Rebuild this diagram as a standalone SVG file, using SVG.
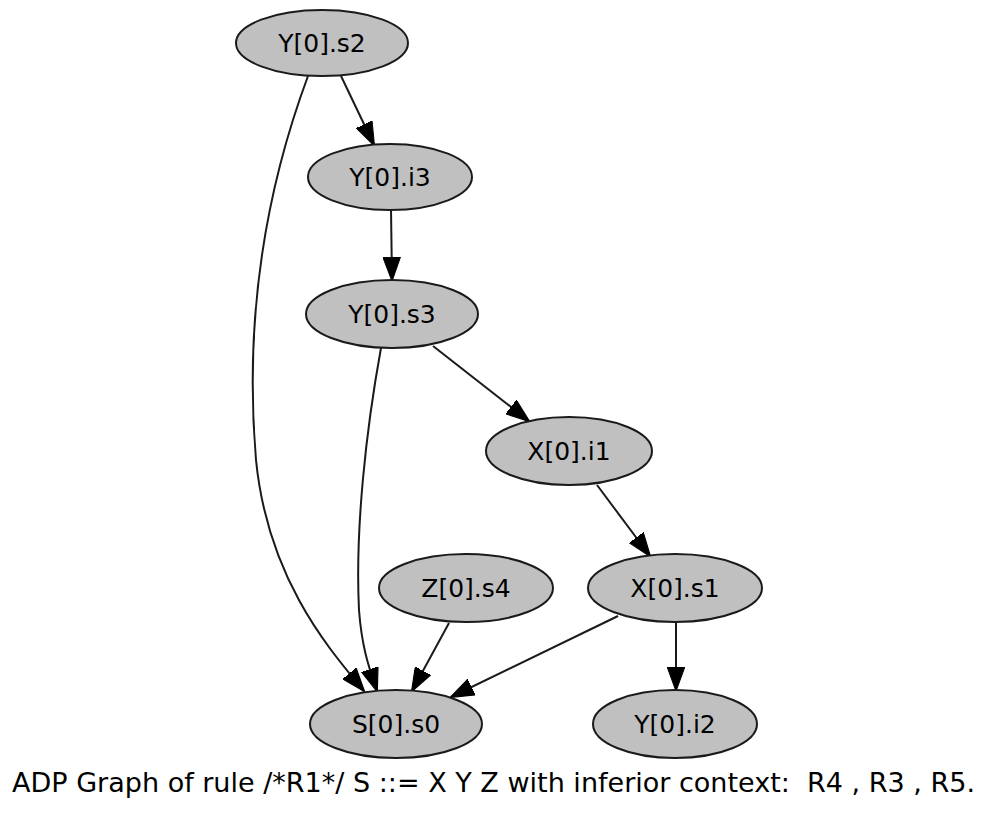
<svg xmlns="http://www.w3.org/2000/svg" width="1000" height="814" viewBox="0 0 1000 814">
<defs>
<style>
.node ellipse{fill:#c0c0c0;stroke:#1a1a1a;stroke-width:2}
.node text{font-family:"DejaVu Sans",sans-serif;font-size:25px;text-anchor:middle;fill:#000}
.edges path{fill:none;stroke:#1a1a1a;stroke-width:2}
.caption{font-family:"DejaVu Sans Condensed","DejaVu Sans",sans-serif;font-size:27px;fill:#000;white-space:pre}
</style>
<marker id="arr" markerUnits="userSpaceOnUse" markerWidth="24" markerHeight="18" viewBox="0 0 22 16" refX="21" refY="8" orient="auto">
<path d="M0,0 L22,8 L0,16 Z" fill="#000" stroke="#000" stroke-width="1"/>
</marker>
</defs>
<rect width="1000" height="814" fill="#fff"/>
<g id="edges" class="edges">
<path d="M341,76 L374,145" marker-end="url(#arr)"/>
<path d="M308,76 C262,200 245,330 256,460 C268,580 330,650 364,691" marker-end="url(#arr)"/>
<path d="M391,209 L392,280" marker-end="url(#arr)"/>
<path d="M381,348 C366,430 355,530 359,610 C362,650 370,670 377,691" marker-end="url(#arr)"/>
<path d="M433,346 L529,421" marker-end="url(#arr)"/>
<path d="M597,485 L650,556" marker-end="url(#arr)"/>
<path d="M449,623 L412,691" marker-end="url(#arr)"/>
<path d="M618,616 L451,697" marker-end="url(#arr)"/>
<path d="M676,623 L676,690" marker-end="url(#arr)"/>
</g>
<g id="Y0s2" class="node"><ellipse cx="322" cy="43" rx="86" ry="33"/><text x="322" y="52">Y[0].s2</text></g>
<g id="Y0i3" class="node"><ellipse cx="390" cy="177" rx="82" ry="33"/><text x="390" y="186">Y[0].i3</text></g>
<g id="Y0s3" class="node"><ellipse cx="392" cy="314" rx="86" ry="34"/><text x="392" y="323">Y[0].s3</text></g>
<g id="X0i1" class="node"><ellipse cx="569" cy="451" rx="83" ry="34"/><text x="569" y="460">X[0].i1</text></g>
<g id="Z0s4" class="node"><ellipse cx="466" cy="588" rx="87" ry="34"/><text x="466" y="597">Z[0].s4</text></g>
<g id="X0s1" class="node"><ellipse cx="675" cy="588" rx="87" ry="34"/><text x="675" y="597">X[0].s1</text></g>
<g id="S0s0" class="node"><ellipse cx="396" cy="724" rx="86" ry="34"/><text x="396" y="733">S[0].s0</text></g>
<g id="Y0i2" class="node"><ellipse cx="675" cy="724" rx="82" ry="34"/><text x="675" y="733">Y[0].i2</text></g>
<text class="caption" x="12" y="792" textLength="963" lengthAdjust="spacingAndGlyphs" xml:space="preserve">ADP Graph of rule /*R1*/ S ::= X Y Z with inferior context:  R4 , R3 , R5.</text>
</svg>
